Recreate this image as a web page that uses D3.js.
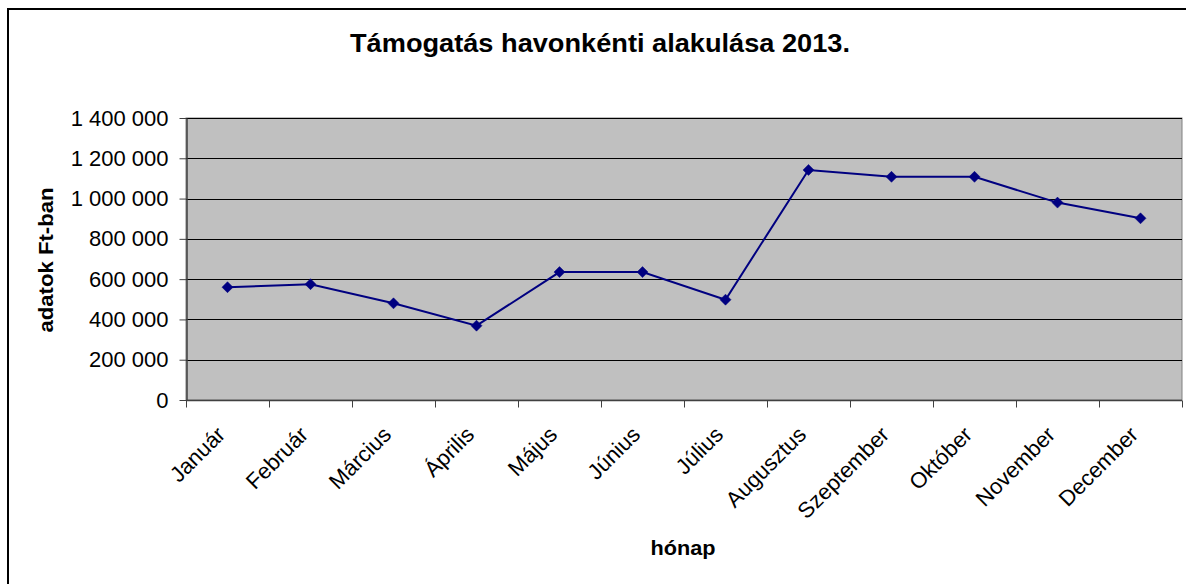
<!DOCTYPE html>
<html>
<head>
<meta charset="utf-8">
<script src="https://cdn.jsdelivr.net/npm/d3@7"></script>
<style>
  html, body { margin: 0; padding: 0; background: #fff; }
  svg { display: block; }
  text { font-family: Arial, "Liberation Sans", sans-serif; fill: #000; }
</style>
</head>
<body>
<svg id="chart" width="1186" height="584"></svg>
<script>
const months = ["Január", "Február", "Március", "Április", "Május", "Június",
                "Július", "Augusztus", "Szeptember", "Október", "November", "December"];
const values = [560000, 575000, 480000, 369000, 635000, 635000,
                498000, 1142000, 1108000, 1108000, 980000, 902000];
const yTicks = [0, 200000, 400000, 600000, 800000, 1000000, 1200000, 1400000];
const titleText = "Támogatás havonkénti alakulása 2013.";
const yLabelText = "adatok Ft-ban";
const xLabelText = "hónap";

const svg = d3.select("#chart");
const plot = { left: 186, right: 1182, top: 118, bottom: 400 };

// outer chart border (cut off at right and bottom)
svg.append("rect")
  .attr("x", 8).attr("y", 9).attr("width", 1400).attr("height", 800)
  .attr("fill", "#fff").attr("stroke", "#000").attr("stroke-width", 2);

const x = d3.scaleBand().domain(months).range([plot.left, plot.right]).padding(0);
const y = d3.scaleLinear().domain([0, 1400000]).range([plot.bottom, plot.top]);

const loc = d3.formatLocale({ thousands: " ", grouping: [3], decimal: ",", currency: ["", ""] });
const fmt = loc.format(",");

// plot area
svg.append("rect")
  .attr("x", plot.left).attr("y", plot.top)
  .attr("width", plot.right - plot.left).attr("height", plot.bottom - plot.top)
  .attr("fill", "#c0c0c0").attr("stroke", "#808080").attr("stroke-width", 1);

// gridlines
svg.append("g").selectAll("line").data(yTicks.filter(d => d > 0)).join("line")
  .attr("x1", plot.left).attr("x2", plot.right)
  .attr("y1", d => Math.round(y(d)) + 0.5).attr("y2", d => Math.round(y(d)) + 0.5)
  .attr("stroke", "#000").attr("stroke-width", 1);

// y axis
const yAxis = svg.append("g")
  .attr("transform", `translate(${plot.left + 0.5},0)`)
  .call(d3.axisLeft(y).tickValues(yTicks).tickFormat(fmt).tickSize(7).tickPadding(11).tickSizeOuter(0));
yAxis.select(".domain").attr("stroke", "#404040").attr("stroke-width", 1.5);
yAxis.selectAll(".tick line").attr("stroke", "#404040");
yAxis.selectAll(".tick text").style("font-size", "22px").attr("fill", "#000");

// x axis with ticks on category boundaries
const xAxisG = svg.append("g").attr("transform", `translate(0,${plot.bottom + 0.5})`);
xAxisG.append("line").attr("x1", plot.left).attr("x2", plot.right)
  .attr("stroke", "#404040").attr("stroke-width", 1.5);
const boundaries = months.map(m => x(m)).concat([x.range()[1]]);
xAxisG.selectAll("line.tk").data(boundaries).join("line").attr("class", "tk")
  .attr("x1", d => Math.round(d) + 0.5).attr("x2", d => Math.round(d) + 0.5)
  .attr("y1", 0).attr("y2", 7).attr("stroke", "#404040");
xAxisG.selectAll("text").data(months).join("text")
  .attr("transform", d => `translate(${x(d) + x.bandwidth() / 2 - 1},${35.5}) rotate(-45)`)
  .attr("text-anchor", "end")
  .style("font-size", "22px")
  .text(d => d);

// line
const line = d3.line().x((d, i) => x(months[i]) + x.bandwidth() / 2).y(d => y(d));
svg.append("path").datum(values)
  .attr("d", line).attr("fill", "none").attr("stroke", "#000080").attr("stroke-width", 2);

// diamond markers
svg.append("g").selectAll("path").data(values).join("path")
  .attr("transform", (d, i) => `translate(${x(months[i]) + x.bandwidth() / 2},${y(d)})`)
  .attr("d", "M0,-5.5L5.5,0L0,5.5L-5.5,0Z")
  .attr("fill", "#000080").attr("stroke", "#000080").attr("stroke-width", 0.5);

// title
svg.append("text").attr("x", 600).attr("y", 52).attr("text-anchor", "middle")
  .style("font-size", "25px").style("font-weight", "bold")
  .attr("textLength", 500).attr("lengthAdjust", "spacingAndGlyphs")
  .text(titleText);

// y label
svg.append("text").attr("transform", "translate(53,260) rotate(-90)")
  .attr("text-anchor", "middle")
  .style("font-size", "21px").style("font-weight", "bold")
  .attr("textLength", 145).attr("lengthAdjust", "spacingAndGlyphs")
  .text(yLabelText);

// x label
svg.append("text").attr("x", 683).attr("y", 555).attr("text-anchor", "middle")
  .style("font-size", "21px").style("font-weight", "bold")
  .attr("textLength", 65).attr("lengthAdjust", "spacingAndGlyphs")
  .text(xLabelText);
</script>
</body>
</html>
